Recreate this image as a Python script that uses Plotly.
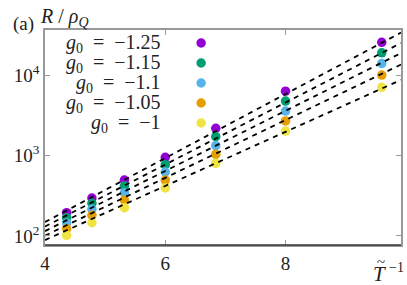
import plotly.graph_objects as go

# ---- data ----
x_inv_T = [4.36, 4.78, 5.32, 6.0, 6.84, 8.0, 9.6]
labels = ["−1.25", "−1.15", "−1.1", "−1.05", "−1"]
colors = ["#9400D3", "#009E73", "#56B4E9", "#E69F00", "#F0E442"]
R_g125 = [195, 296, 496, 950, 2180, 6310, 25500]
R_g115 = [169, 255, 418, 769, 1714, 4750, 18900]
R_g110 = [145, 215, 345, 624, 1324, 3570, 13960]
R_g105 = [123, 181, 280, 496, 1035, 2690, 10000]
R_g100 = [102, 146, 225, 395, 800, 2015, 7030]
series = [R_g125, R_g115, R_g110, R_g105, R_g100]

# fitted dashed lines: values at the two x ends
fit_x = [4.0, 9.92]
fit_start = [149, 131, 115, 101, 89]
fit_end = [33700, 25000, 18750, 13490, 8710]

ytick_vals = [100, 1000, 10000]
ytick_text = ["10<sup>2</sup>", "10<sup>3</sup>", "10<sup>4</sup>"]
xtick_vals = [4, 6, 8]

FONT = "Liberation Serif"
W, H = 407, 285
L, R, T, B = 45, 4, 30, 40
pw, ph = W - L - R, H - T - B

def px(x):
    return (x - L) / pw

def py(y):
    return (H - B - y) / ph

fig = go.Figure()
for ys, c in zip(series, colors):
    fig.add_trace(go.Scatter(x=x_inv_T, y=ys, mode="markers",
                             marker=dict(color=c, size=9.5, line=dict(width=0)),
                             showlegend=False, hoverinfo="skip"))
for s, e in zip(fit_start, fit_end):
    fig.add_trace(go.Scatter(x=fit_x, y=[s, e], mode="lines",
                             line=dict(color="black", width=1.8, dash="5px,5px"),
                             showlegend=False, hoverinfo="skip"))

annotations = []
shapes = []
row_y = [43, 63, 83, 103, 123]
for lab, c, ry in zip(labels, colors, row_y):
    annotations.append(dict(x=px(164), y=py(ry), xref="paper", yref="paper",
                            text="<i>g</i><sub>0</sub>\u2002=\u2002" + lab, showarrow=False,
                            xanchor="right", yanchor="middle",
                            font=dict(family=FONT, size=20, color="#222")))
    shapes.append(dict(type="circle", xref="paper", yref="paper",
                       xsizemode="pixel", ysizemode="pixel",
                       xanchor=px(202), yanchor=py(ry),
                       x0=-4.75, x1=4.75, y0=-4.75, y1=4.75,
                       fillcolor=c, line=dict(width=0)))

annotations.append(dict(x=px(23), y=py(24), xref="paper", yref="paper",
                        text="(a)", showarrow=False, xanchor="center", yanchor="middle",
                        font=dict(family=FONT, size=19, color="#222")))
annotations.append(dict(x=px(38), y=py(17), xref="paper", yref="paper",
                        text="<i>R</i> / <i>ρ</i><sub><i>Q</i></sub>", showarrow=False,
                        xanchor="left", yanchor="middle",
                        font=dict(family=FONT, size=20, color="#222")))
# x-axis title: T with tilde and superscript -1, built from pieces
annotations.append(dict(x=px(381), y=py(274), xref="paper", yref="paper",
                        text="<i>T</i>", showarrow=False,
                        xanchor="center", yanchor="middle",
                        font=dict(family=FONT, size=21, color="#222")))
annotations.append(dict(x=px(383), y=py(262), xref="paper", yref="paper",
                        text="~", showarrow=False,
                        xanchor="center", yanchor="middle",
                        font=dict(family=FONT, size=15, color="#222")))
annotations.append(dict(x=px(389), y=py(267), xref="paper", yref="paper",
                        text="−1", showarrow=False,
                        xanchor="left", yanchor="middle",
                        font=dict(family=FONT, size=14, color="#222")))

# darker bottom axis line
shapes.append(dict(type="line", xref="paper", yref="paper", x0=0, x1=1, y0=0, y1=0,
                   line=dict(color="#333", width=1.5)))

fig.update_layout(
    width=W, height=H,
    margin=dict(l=L, r=R, t=T, b=B),
    paper_bgcolor="white", plot_bgcolor="white",
    annotations=annotations, shapes=shapes,
    showlegend=False,
    font=dict(family=FONT, size=18, color="#222"),
)
fig.update_xaxes(range=[4, 9.92], tickvals=xtick_vals, ticks="inside", ticklen=5,
                 tickcolor="#999", showline=True, linecolor="#999", linewidth=1.5,
                 mirror="ticks", showgrid=False, zeroline=False,
                 tickfont=dict(family=FONT, size=19, color="#222"))
fig.update_yaxes(type="log", range=[1.888, 4.56], tickvals=ytick_vals, ticktext=ytick_text,
                 ticks="inside", ticklen=5, tickcolor="#999", showline=True,
                 linecolor="#999", linewidth=1.5, mirror="ticks", showgrid=False,
                 zeroline=False, tickfont=dict(family=FONT, size=19, color="#222"))

fig.write_html("out.html", config={"displayModeBar": False},
               post_script="document.body.style.margin='0';document.body.style.overflow='hidden';")
